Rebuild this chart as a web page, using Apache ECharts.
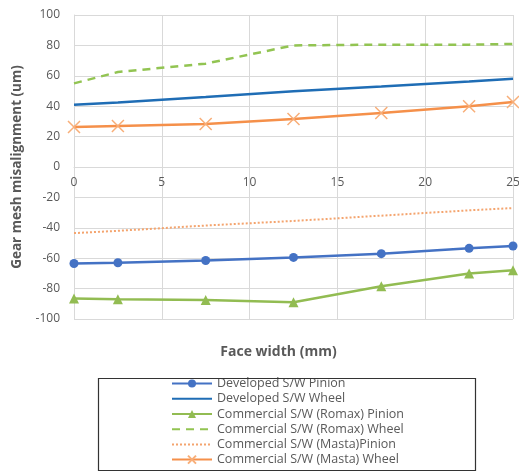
<!DOCTYPE html>
<html>
<head>
<meta charset="utf-8">
<script src="https://cdn.jsdelivr.net/npm/echarts@6/dist/echarts.min.js"></script>
<style>
  html, body { margin: 0; padding: 0; background: #ffffff; overflow: hidden; }
  #chart { width: 519px; height: 476px; }
</style>
</head>
<body>
<div id="chart"></div>
<script>
// Face width positions (mm) where misalignment was evaluated
const faceWidth = [0, 2.5, 7.5, 12.5, 17.5, 22.5, 25];

// Gear mesh misalignment (um)
const developedPinion = [-63.5, -63, -61.5, -59.5, -57, -53.5, -52];
const developedWheel  = [41, 42.5, 46, 49.8, 53, 56.3, 58];
const romaxPinion     = [-86.5, -87, -87.5, -89, -78.5, -70, -68];
const romaxWheel      = [55, 62.5, 68, 80, 80.5, 80.5, 81];
const mastaPinion     = [-43.5, -42, -38.5, -35.5, -32, -28.5, -27];
const mastaWheel      = [26.3, 27, 28.3, 31.6, 35.5, 40, 42.8];

const seriesNames = [
  'Developed S/W Pinion',
  'Developed S/W Wheel',
  'Commercial S/W (Romax) Pinion',
  'Commercial S/W (Romax) Wheel',
  'Commercial S/W (Masta)Pinion',
  'Commercial S/W (Masta) Wheel'
];

const xTicks = { min: 0, max: 25, step: 5 };
const yTicks = { min: -100, max: 100, step: 20 };

const pairs = ys => faceWidth.map((x, i) => [x, ys[i]]);
const crossSymbol = 'path://M0,0 L10,10 M10,0 L0,10';
const gray = '#595959';
const gridGray = '#D9D9D9';
const frameColor = '#333333';
const font = '"Open Sans", "Liberation Sans", sans-serif';

// Plot box geometry (px)
const plot = { left: 74, right: 6, top: 15, bottom: 157 };
const plotHeight = 476 - plot.top - plot.bottom;
// lift the x axis from the bottom edge up to the y = 0 line
const xAxisLift = -plotHeight * (0 - yTicks.min) / (yTicks.max - yTicks.min);

// series drawn without markers get a plain line in the legend
const noMarker = new Set([seriesNames[1], seriesNames[3], seriesNames[4]]);
const legendData = seriesNames.map(name => noMarker.has(name)
  ? { name, itemStyle: { color: 'rgba(0,0,0,0)', borderWidth: 0 } }
  : { name });

const chart = echarts.init(document.getElementById('chart'), null, { renderer: 'canvas' });

chart.setOption({
  animation: false,
  backgroundColor: '#ffffff',
  grid: { left: plot.left, right: plot.right, top: plot.top, bottom: plot.bottom, containLabel: false, outerBoundsMode: 'none' },
  graphic: [
    {
      // frame around the legend
      type: 'rect',
      left: 96, top: 376,
      shape: { x: 0, y: 0, width: 377, height: 92 },
      style: { fill: 'none', stroke: frameColor, lineWidth: 1.2 },
      z: 10
    }
  ],
  xAxis: {
    type: 'value',
    min: xTicks.min, max: xTicks.max, interval: xTicks.step,
    position: 'bottom',
    offset: xAxisLift,
    name: 'Face width (mm)',
    nameLocation: 'middle',
    nameGap: 178,
    nameTextStyle: { fontFamily: font, fontWeight: 'bold', fontSize: 14, color: gray, padding: [0, 30, 0, 0] },
    axisLine: { onZero: false, lineStyle: { color: gridGray, width: 1 } },
    axisTick: { show: false },
    axisLabel: { fontFamily: font, fontSize: 12, color: gray, margin: 10 },
    splitLine: { show: true, lineStyle: { color: gridGray, width: 1 } }
  },
  yAxis: {
    type: 'value',
    min: yTicks.min, max: yTicks.max, interval: yTicks.step,
    name: 'Gear mesh misalignment (um)',
    nameLocation: 'middle',
    nameGap: 47,
    nameTextStyle: { fontFamily: font, fontWeight: 'bold', fontSize: 13.5, color: gray },
    axisLine: { show: true, onZero: false, lineStyle: { color: gridGray, width: 1 } },
    axisTick: { show: false },
    axisLabel: { fontFamily: font, fontSize: 12, color: gray, margin: 14 },
    splitLine: { show: true, lineStyle: { color: gridGray, width: 1 } }
  },
  legend: {
    orient: 'vertical',
    left: 171,
    top: 376,
    padding: 0,
    itemWidth: 40,
    itemHeight: 10,
    itemGap: 0,
    align: 'left',
    textStyle: { fontFamily: font, fontSize: 12.5, lineHeight: 15.2, color: gray },
    data: legendData
  },
  series: [
    {
      name: seriesNames[0], type: 'line', data: pairs(developedPinion),
      symbol: 'circle', symbolSize: 9,
      lineStyle: { color: '#4472C4', width: 2.5 },
      itemStyle: { color: '#4472C4' }
    },
    {
      name: seriesNames[1], type: 'line', data: pairs(developedWheel),
      symbol: 'none',
      lineStyle: { color: '#1F6DB5', width: 2.5 },
      itemStyle: { color: '#1F6DB5' }
    },
    {
      name: seriesNames[2], type: 'line', data: pairs(romaxPinion),
      symbol: 'triangle', symbolSize: 10,
      lineStyle: { color: '#92BC52', width: 2.5 },
      itemStyle: { color: '#92BC52' }
    },
    {
      name: seriesNames[3], type: 'line', data: pairs(romaxWheel),
      symbol: 'none',
      lineStyle: { color: '#92C452', width: 2.5, type: [8, 6] },
      itemStyle: { color: '#92C452' }
    },
    {
      name: seriesNames[4], type: 'line', data: pairs(mastaPinion),
      symbol: 'none',
      lineStyle: { color: '#F4A46E', width: 2, type: [2, 2] },
      itemStyle: { color: '#F4A46E' }
    },
    {
      name: seriesNames[5], type: 'line', data: pairs(mastaWheel),
      symbol: crossSymbol, symbolSize: 12,
      lineStyle: { color: '#F5904A', width: 2.5 },
      itemStyle: { color: 'rgba(0,0,0,0)', borderColor: '#F8AE78', borderWidth: 1.5 }
    }
  ]
});
</script>
</body>
</html>
